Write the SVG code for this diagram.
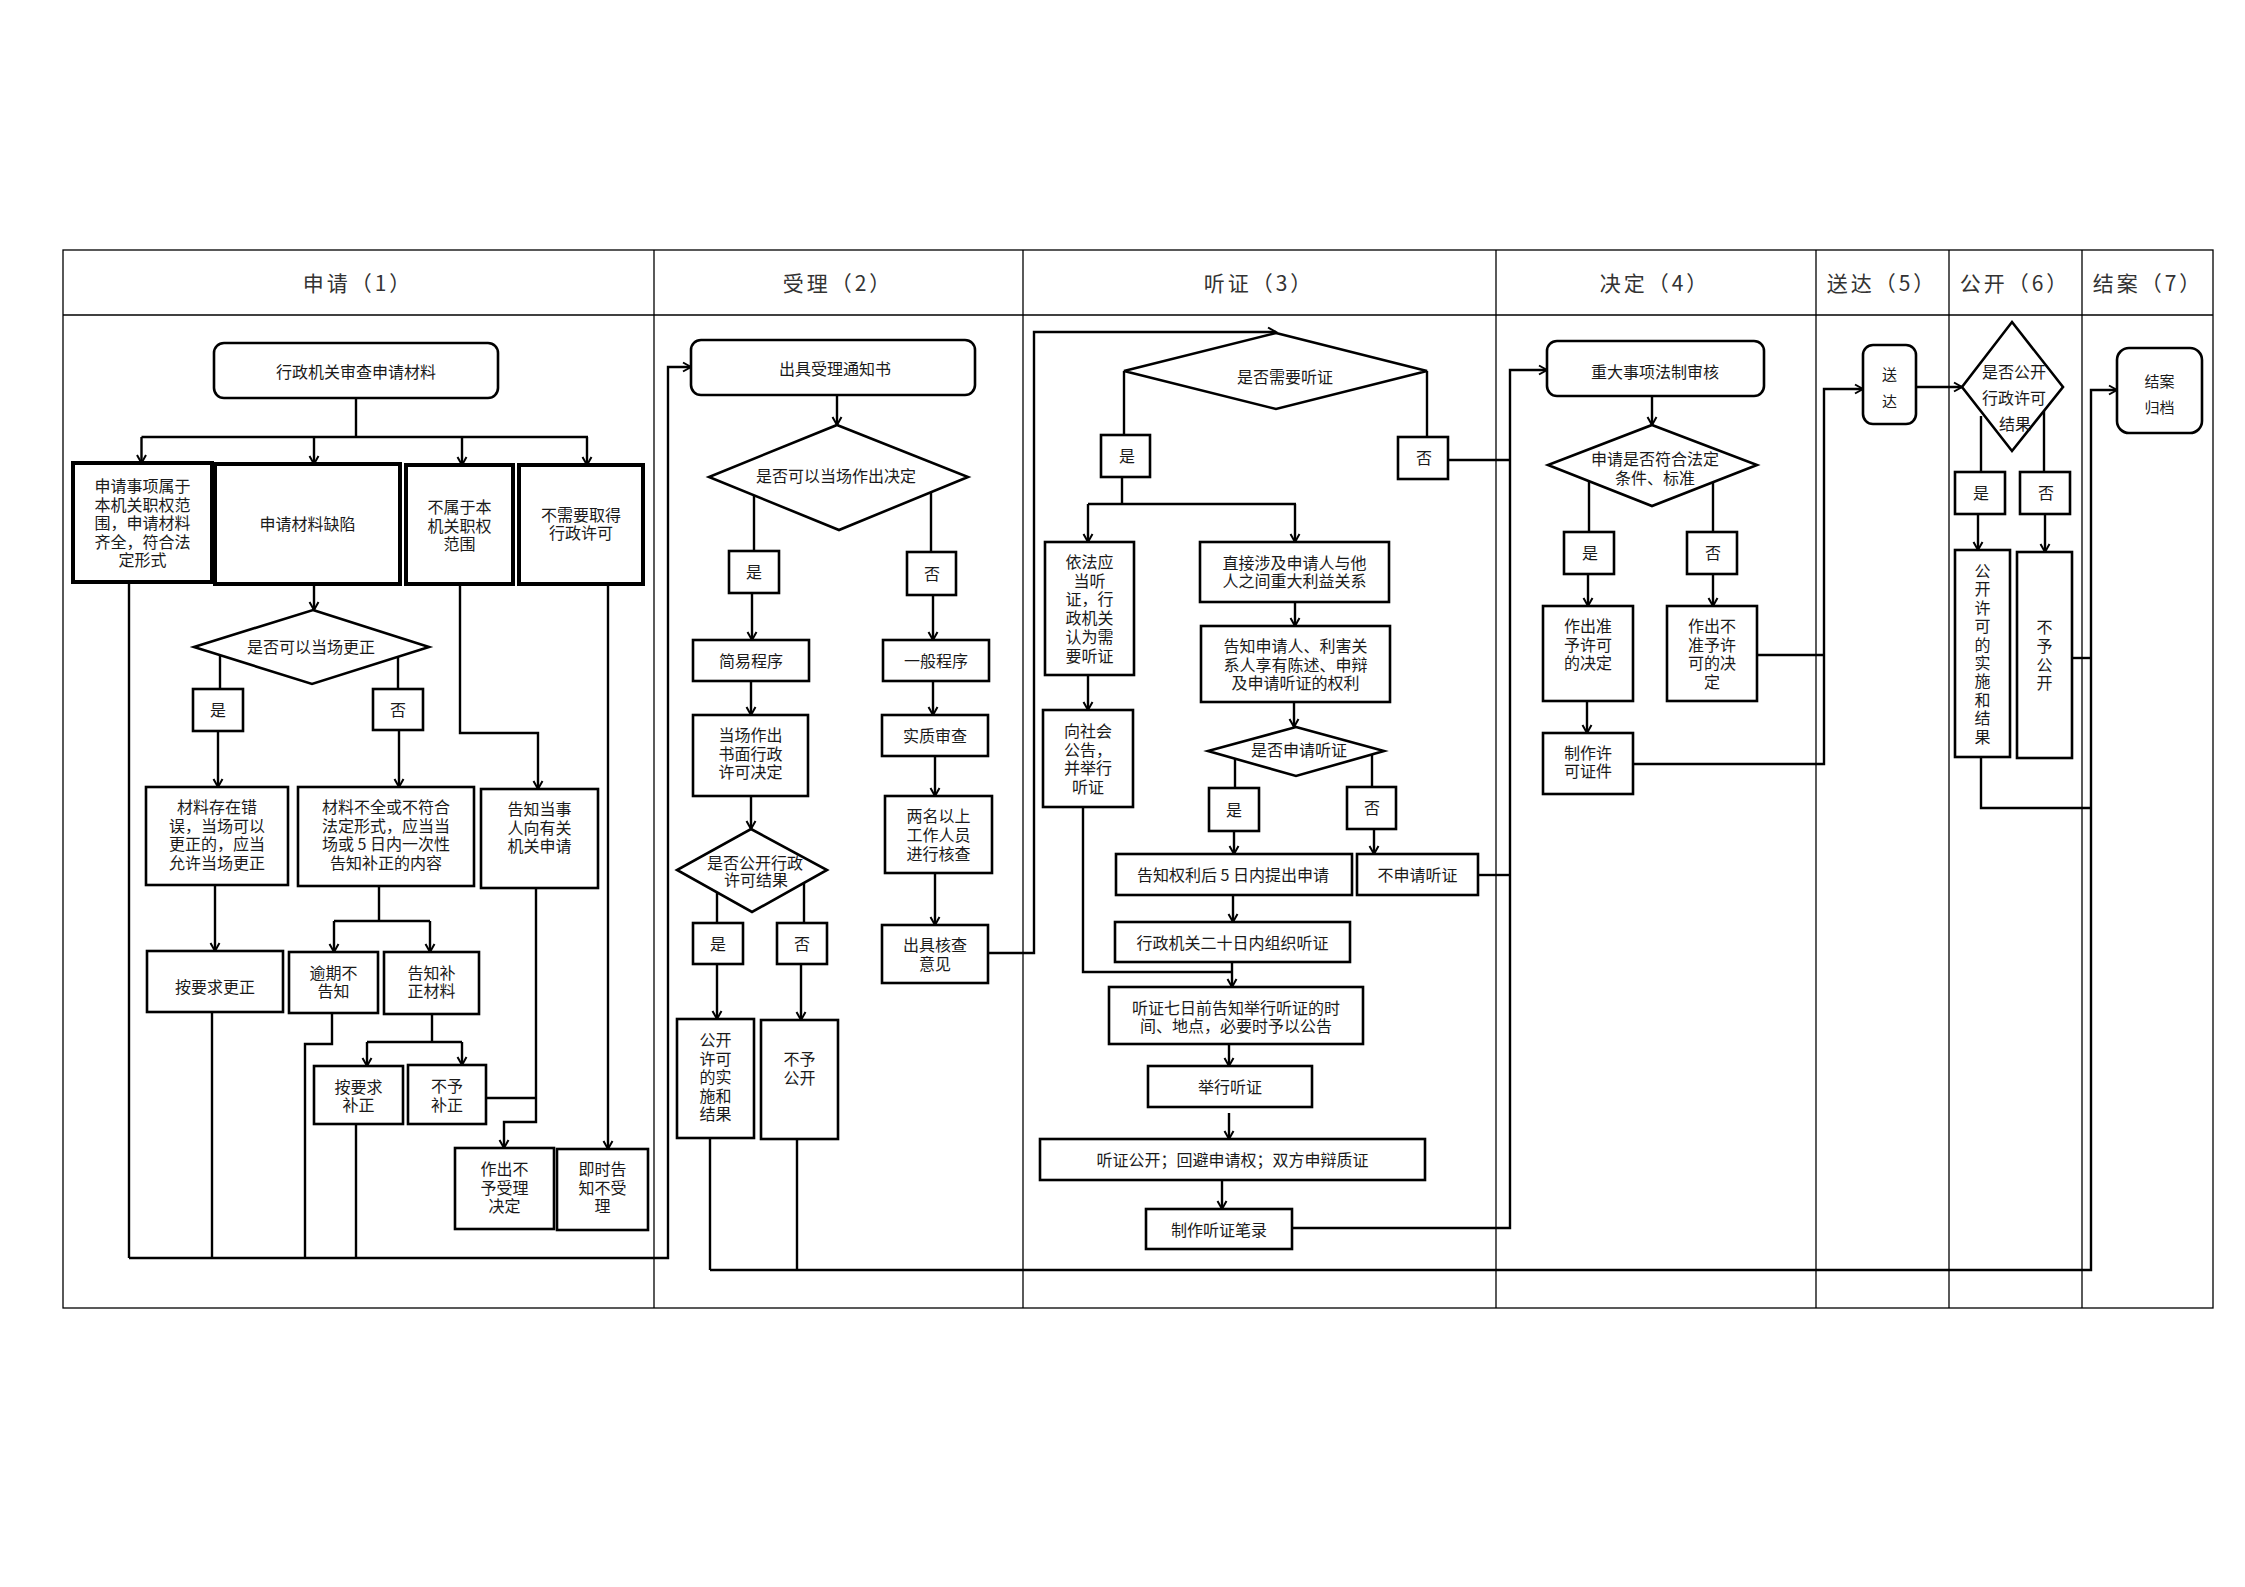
<svg xmlns="http://www.w3.org/2000/svg" width="2245" height="1587" viewBox="0 0 2245 1587">
<style>
.lane{fill:none;stroke:#000;stroke-width:1.3}
.b{fill:#fff;stroke:#000;stroke-width:2.6}
.bt{fill:#fff;stroke:#000;stroke-width:4}
.t{font-family:"Noto Sans CJK SC","Liberation Sans",sans-serif;font-size:16px;text-anchor:middle;dominant-baseline:central;fill:#1a1a1a}
.h{font-family:"Noto Sans CJK SC","Liberation Sans",sans-serif;font-size:21px;letter-spacing:3px;text-anchor:middle;dominant-baseline:central;fill:#333}
.c{fill:none;stroke:#000;stroke-width:2.4}
.a{marker-end:url(#arr)}
</style>
<defs>
<marker id="arr" markerWidth="12" markerHeight="12" refX="10" refY="6" orient="auto" markerUnits="userSpaceOnUse">
<path d="M2,1.5 L10,6 L2,10.5" fill="none" stroke="#000" stroke-width="2"/>
</marker>
</defs>
<rect width="2245" height="1587" fill="#fff"/>
<g id="lanes">
<rect class="lane" x="63" y="250" width="2150" height="1058"/>
<line class="lane" x1="63" y1="315" x2="2213" y2="315"/>
<line class="lane" x1="654" y1="250" x2="654" y2="1308"/>
<line class="lane" x1="1023" y1="250" x2="1023" y2="1308"/>
<line class="lane" x1="1496" y1="250" x2="1496" y2="1308"/>
<line class="lane" x1="1816" y1="250" x2="1816" y2="1308"/>
<line class="lane" x1="1949" y1="250" x2="1949" y2="1308"/>
<line class="lane" x1="2082" y1="250" x2="2082" y2="1308"/>
<text class="h" x="358" y="282">申请（1）</text>
<text class="h" x="838" y="282">受理（2）</text>
<text class="h" x="1259" y="282">听证（3）</text>
<text class="h" x="1655" y="282">决定（4）</text>
<text class="h" x="1882" y="282">送达（5）</text>
<text class="h" x="2015" y="282">公开（6）</text>
<text class="h" x="2148" y="282">结案（7）</text>
</g>
<g id="connectors">
<path class="c" d="M356,398 V437 M141.5,437 H588"/>
<path class="c a" d="M141.5,437 V463"/>
<path class="c a" d="M314,437 V464"/>
<path class="c a" d="M462,437 V465"/>
<path class="c a" d="M587,437 V465"/>
<path class="c a" d="M314,584 V610"/>
<path class="c" d="M220,656 V689"/>
<path class="c" d="M398,657 V689"/>
<path class="c a" d="M218,731 V787"/>
<path class="c a" d="M399,730 V787"/>
<path class="c a" d="M460,584 V733 H538 V789"/>
<path class="c" d="M129,582 V1258"/>
<path class="c a" d="M608,584 V1149"/>
<path class="c a" d="M215,885 V951"/>
<path class="c" d="M379,886 V921 M334,921 H430"/>
<path class="c a" d="M334,921 V952"/>
<path class="c a" d="M430,921 V952"/>
<path class="c a" d="M536,888 V1122 H504 V1148"/>
<path class="c" d="M486,1098 H536"/>
<path class="c" d="M212,1012 V1258"/>
<path class="c" d="M332,1013 V1044 H305 V1258"/>
<path class="c" d="M432,1014 V1042 M367,1042 H462"/>
<path class="c a" d="M367,1042 V1066"/>
<path class="c a" d="M462,1042 V1065"/>
<path class="c" d="M356,1124 V1258"/>
<path class="c a" d="M129,1258 H668 V367 H691"/>
<path class="c a" d="M837,395 V425"/>
<path class="c" d="M754,495 V551"/>
<path class="c" d="M931,493 V552"/>
<path class="c a" d="M752,593 V640"/>
<path class="c a" d="M933,595 V640"/>
<path class="c a" d="M751,681 V715"/>
<path class="c a" d="M933,681 V715"/>
<path class="c a" d="M935,756 V796"/>
<path class="c a" d="M935,873 V925"/>
<path class="c a" d="M988,953 H1034 V332 H1276"/>
<path class="c a" d="M751,796 V829"/>
<path class="c" d="M717,892 V923"/>
<path class="c" d="M804,883 V923"/>
<path class="c a" d="M717,964 V1019"/>
<path class="c a" d="M801,964 V1020"/>
<path class="c" d="M710,1138 V1270 M797,1139 V1270"/>
<path class="c a" d="M710,1270 H2091 V390 H2117"/>
<path class="c" d="M1124,371 V435"/>
<path class="c" d="M1427,371 V437"/>
<path class="c" d="M1448,460 H1510"/>
<path class="c" d="M1478,875 H1510"/>
<path class="c a" d="M1292,1228 H1510 V370 H1547"/>
<path class="c" d="M1122,477 V504 M1088,504 H1296"/>
<path class="c a" d="M1088,504 V542"/>
<path class="c a" d="M1295,504 V542"/>
<path class="c a" d="M1295,602 V626"/>
<path class="c a" d="M1088,675 V710"/>
<path class="c" d="M1083,807 V972 H1232"/>
<path class="c a" d="M1294,702 V727"/>
<path class="c" d="M1235,759 V788"/>
<path class="c" d="M1372,755 V787"/>
<path class="c a" d="M1234,831 V854"/>
<path class="c a" d="M1374,829 V854"/>
<path class="c a" d="M1233,895 V922"/>
<path class="c a" d="M1232,962 V987"/>
<path class="c a" d="M1229,1044 V1066"/>
<path class="c a" d="M1229,1113 V1139"/>
<path class="c a" d="M1222,1180 V1209"/>
<path class="c a" d="M1652,396 V425"/>
<path class="c" d="M1589,482 V532"/>
<path class="c" d="M1713,482 V532"/>
<path class="c a" d="M1588,574 V606"/>
<path class="c a" d="M1713,574 V606"/>
<path class="c a" d="M1587,701 V733"/>
<path class="c" d="M1757,655 H1824"/>
<path class="c a" d="M1633,764 H1824 V389 H1863"/>
<path class="c a" d="M1916,387 H1962"/>
<path class="c" d="M1981,416 V472"/>
<path class="c" d="M2044,411 V472"/>
<path class="c a" d="M1978,514 V550"/>
<path class="c a" d="M2045,514 V552"/>
<path class="c" d="M2072,658 H2091"/>
<path class="c" d="M1981,757 V808 H2091"/>
</g>
<g id="n-shencha"><rect class="b" x="214" y="343" width="284" height="55" rx="10"/><text class="t" x="356" y="371">行政机关审查申请材料</text></g>
<g id="n-shuyu"><rect class="bt" x="73" y="463" width="139" height="119"/><text class="t"><tspan x="142.5" y="485">申请事项属于</tspan><tspan x="142.5" y="503.5">本机关职权范</tspan><tspan x="142.5" y="522">围，申请材料</tspan><tspan x="142.5" y="540.5">齐全，符合法</tspan><tspan x="142.5" y="559">定形式</tspan></text></g>
<g id="n-quexian"><rect class="bt" x="215" y="464" width="185" height="120"/><text class="t" x="307.5" y="523">申请材料缺陷</text></g>
<g id="n-bushuyu"><rect class="bt" x="406" y="465" width="107" height="119"/><text class="t"><tspan x="459.5" y="506">不属于本</tspan><tspan x="459.5" y="524.5">机关职权</tspan><tspan x="459.5" y="543">范围</tspan></text></g>
<g id="n-buxuyao"><rect class="bt" x="519" y="465" width="124" height="119"/><text class="t"><tspan x="581" y="514">不需要取得</tspan><tspan x="581" y="532">行政许可</tspan></text></g>
<g id="d-gengzheng"><polygon class="b" points="313,610 429,647 312,684 194,647"/><text class="t" x="311" y="646">是否可以当场更正</text></g>
<g id="l1-yes"><rect class="b" x="193" y="689" width="50" height="42"/><text class="t" x="218" y="709">是</text></g>
<g id="l1-no"><rect class="b" x="373" y="689" width="50" height="41"/><text class="t" x="398" y="709">否</text></g>
<g id="n-cuowu"><rect class="b" x="146" y="787" width="142" height="98"/><text class="t"><tspan x="217" y="806">材料存在错</tspan><tspan x="217" y="824.5">误，当场可以</tspan><tspan x="217" y="843">更正的，应当</tspan><tspan x="217" y="861.5">允许当场更正</tspan></text></g>
<g id="n-buquan"><rect class="b" x="298" y="787" width="176" height="99"/><text class="t"><tspan x="386" y="806">材料不全或不符合</tspan><tspan x="386" y="824.5">法定形式，应当当</tspan><tspan x="386" y="843">场或 5 日内一次性</tspan><tspan x="386" y="861.5">告知补正的内容</tspan></text></g>
<g id="n-gaozhi"><rect class="b" x="481" y="789" width="117" height="99"/><text class="t"><tspan x="539.5" y="808">告知当事</tspan><tspan x="539.5" y="826.5">人向有关</tspan><tspan x="539.5" y="845">机关申请</tspan></text></g>
<g id="n-gengzheng"><rect class="b" x="147" y="951" width="136" height="61"/><text class="t" x="215" y="986">按要求更正</text></g>
<g id="n-yuqi"><rect class="b" x="289" y="952" width="89" height="61"/><text class="t"><tspan x="333.5" y="972">逾期不</tspan><tspan x="333.5" y="990">告知</tspan></text></g>
<g id="n-buzheng"><rect class="b" x="384" y="952" width="95" height="62"/><text class="t"><tspan x="431.5" y="972">告知补</tspan><tspan x="431.5" y="990">正材料</tspan></text></g>
<g id="n-anyaoqiu"><rect class="b" x="314" y="1066" width="89" height="58"/><text class="t"><tspan x="358.5" y="1086">按要求</tspan><tspan x="358.5" y="1104">补正</tspan></text></g>
<g id="n-buyubuzheng"><rect class="b" x="408" y="1065" width="78" height="59"/><text class="t"><tspan x="447" y="1085">不予</tspan><tspan x="447" y="1104">补正</tspan></text></g>
<g id="n-buyushouli"><rect class="b" x="455" y="1148" width="99" height="81"/><text class="t"><tspan x="504.5" y="1168">作出不</tspan><tspan x="504.5" y="1187">予受理</tspan><tspan x="504.5" y="1205">决定</tspan></text></g>
<g id="n-jishi"><rect class="b" x="557" y="1149" width="91" height="81"/><text class="t"><tspan x="602.5" y="1168">即时告</tspan><tspan x="602.5" y="1187">知不受</tspan><tspan x="602.5" y="1205">理</tspan></text></g>
<g id="n-tongzhishu"><rect class="b" x="691" y="340" width="284" height="55" rx="10"/><text class="t" x="835" y="368">出具受理通知书</text></g>
<g id="d-dangchang"><polygon class="b" points="837,425 968,477 839,530 709,477"/><text class="t" x="836" y="475">是否可以当场作出决定</text></g>
<g id="l2-yes"><rect class="b" x="729" y="551" width="50" height="42"/><text class="t" x="754" y="571">是</text></g>
<g id="l2-no"><rect class="b" x="907" y="552" width="49" height="43"/><text class="t" x="932" y="573">否</text></g>
<g id="n-jianyi"><rect class="b" x="693" y="640" width="116" height="41"/><text class="t" x="751" y="660">简易程序</text></g>
<g id="n-yiban"><rect class="b" x="883" y="640" width="106" height="41"/><text class="t" x="936" y="660">一般程序</text></g>
<g id="n-dangchangzuochu"><rect class="b" x="693" y="715" width="115" height="81"/><text class="t"><tspan x="750.5" y="734">当场作出</tspan><tspan x="750.5" y="752.5">书面行政</tspan><tspan x="750.5" y="771">许可决定</tspan></text></g>
<g id="n-shizhi"><rect class="b" x="882" y="715" width="106" height="41"/><text class="t" x="935" y="735">实质审查</text></g>
<g id="n-liangming"><rect class="b" x="885" y="796" width="107" height="77"/><text class="t"><tspan x="938.5" y="815">两名以上</tspan><tspan x="938.5" y="834">工作人员</tspan><tspan x="938.5" y="853">进行核查</tspan></text></g>
<g id="n-hecha"><rect class="b" x="882" y="925" width="106" height="58"/><text class="t"><tspan x="935" y="944">出具核查</tspan><tspan x="935" y="963">意见</tspan></text></g>
<g id="d-gongkai2"><polygon class="b" points="751,829 827,870 752,912 677,870"/><text class="t"><tspan x="755" y="862">是否公开行政</tspan><tspan x="756" y="879">许可结果</tspan></text></g>
<g id="l2b-yes"><rect class="b" x="693" y="923" width="50" height="41"/><text class="t" x="718" y="943">是</text></g>
<g id="l2b-no"><rect class="b" x="777" y="923" width="50" height="41"/><text class="t" x="802" y="943">否</text></g>
<g id="n-gongkaixuke2"><rect class="b" x="677" y="1019" width="77" height="119"/><text class="t"><tspan x="715.5" y="1039">公开</tspan><tspan x="715.5" y="1057.5">许可</tspan><tspan x="715.5" y="1076">的实</tspan><tspan x="715.5" y="1094.5">施和</tspan><tspan x="715.5" y="1113">结果</tspan></text></g>
<g id="n-buyugongkai2"><rect class="b" x="761" y="1020" width="77" height="119"/><text class="t"><tspan x="799.5" y="1058">不予</tspan><tspan x="799.5" y="1076.5">公开</tspan></text></g>
<g id="d-tingzheng"><polygon class="b" points="1276,333 1427,371 1276,409 1124,371"/><text class="t" x="1285" y="376">是否需要听证</text></g>
<g id="l3-yes"><rect class="b" x="1101" y="435" width="49" height="42"/><text class="t" x="1127" y="455">是</text></g>
<g id="l3-no"><rect class="b" x="1398" y="437" width="50" height="42"/><text class="t" x="1424" y="457">否</text></g>
<g id="n-yifa"><rect class="b" x="1045" y="542" width="89" height="133"/><text class="t"><tspan x="1089.5" y="561">依法应</tspan><tspan x="1089.5" y="579.5">当听</tspan><tspan x="1089.5" y="598">证，行</tspan><tspan x="1089.5" y="617">政机关</tspan><tspan x="1089.5" y="636">认为需</tspan><tspan x="1089.5" y="654.5">要听证</tspan></text></g>
<g id="n-zhijie"><rect class="b" x="1200" y="542" width="189" height="60"/><text class="t"><tspan x="1294.5" y="562">直接涉及申请人与他</tspan><tspan x="1294.5" y="580">人之间重大利益关系</tspan></text></g>
<g id="n-gaozhishenqingren"><rect class="b" x="1201" y="626" width="189" height="76"/><text class="t"><tspan x="1295.5" y="645">告知申请人、利害关</tspan><tspan x="1295.5" y="663.5">系人享有陈述、申辩</tspan><tspan x="1295.5" y="682">及申请听证的权利</tspan></text></g>
<g id="n-shehui"><rect class="b" x="1043" y="710" width="90" height="97"/><text class="t"><tspan x="1088" y="730">向社会</tspan><tspan x="1088" y="749">公告，</tspan><tspan x="1088" y="767">并举行</tspan><tspan x="1088" y="786">听证</tspan></text></g>
<g id="d-shenqing"><polygon class="b" points="1296,727 1384,751 1296,776 1208,751"/><text class="t" x="1299" y="749">是否申请听证</text></g>
<g id="l3b-yes"><rect class="b" x="1209" y="788" width="50" height="43"/><text class="t" x="1234" y="809">是</text></g>
<g id="l3b-no"><rect class="b" x="1347" y="787" width="49" height="42"/><text class="t" x="1372" y="807">否</text></g>
<g id="n-wuri"><rect class="b" x="1116" y="854" width="236" height="41"/><text class="t" x="1233" y="874">告知权利后 5 日内提出申请</text></g>
<g id="n-bushenqing"><rect class="b" x="1357" y="854" width="121" height="41"/><text class="t" x="1417.5" y="874">不申请听证</text></g>
<g id="n-ershiri"><rect class="b" x="1115" y="922" width="235" height="40"/><text class="t" x="1232.5" y="942">行政机关二十日内组织听证</text></g>
<g id="n-qiri"><rect class="b" x="1109" y="987" width="254" height="57"/><text class="t"><tspan x="1236" y="1007">听证七日前告知举行听证的时</tspan><tspan x="1236" y="1025">间、地点，必要时予以公告</tspan></text></g>
<g id="n-juxing"><rect class="b" x="1148" y="1066" width="164" height="41"/><text class="t" x="1230" y="1086">举行听证</text></g>
<g id="n-gongkai3"><rect class="b" x="1040" y="1139" width="385" height="41"/><text class="t" x="1232.5" y="1159">听证公开；回避申请权；双方申辩质证</text></g>
<g id="n-bilu"><rect class="b" x="1146" y="1209" width="146" height="40"/><text class="t" x="1219" y="1229">制作听证笔录</text></g>
<g id="n-fazhi"><rect class="b" x="1547" y="341" width="217" height="55" rx="10"/><text class="t" x="1655" y="371">重大事项法制审核</text></g>
<g id="d-fuhe"><polygon class="b" points="1652,425 1757,465 1652,506 1548,465"/><text class="t"><tspan x="1655" y="458">申请是否符合法定</tspan><tspan x="1655" y="477">条件、标准</tspan></text></g>
<g id="l4-yes"><rect class="b" x="1564" y="532" width="50" height="42"/><text class="t" x="1590" y="552">是</text></g>
<g id="l4-no"><rect class="b" x="1687" y="532" width="50" height="42"/><text class="t" x="1713" y="552">否</text></g>
<g id="n-zhunyu"><rect class="b" x="1543" y="606" width="90" height="95"/><text class="t"><tspan x="1588" y="625">作出准</tspan><tspan x="1588" y="643.5">予许可</tspan><tspan x="1588" y="662">的决定</tspan></text></g>
<g id="n-buzhunyu"><rect class="b" x="1667" y="606" width="90" height="95"/><text class="t"><tspan x="1712" y="625">作出不</tspan><tspan x="1712" y="643.5">准予许</tspan><tspan x="1712" y="662">可的决</tspan><tspan x="1712" y="681">定</tspan></text></g>
<g id="n-zhengjian"><rect class="b" x="1543" y="733" width="90" height="61"/><text class="t"><tspan x="1588" y="752">制作许</tspan><tspan x="1588" y="770">可证件</tspan></text></g>
<g id="n-songda"><rect class="b" x="1863" y="345" width="53" height="79" rx="10"/><text class="t" style="font-size:15px"><tspan x="1889.5" y="373">送</tspan><tspan x="1889.5" y="400">达</tspan></text></g>
<g id="d-gongkai6"><polygon class="b" points="2012,322 2063,387 2012,451 1962,387"/><text class="t"><tspan x="2014" y="371">是否公开</tspan><tspan x="2014" y="397">行政许可</tspan><tspan x="2015" y="423">结果</tspan></text></g>
<g id="l6-yes"><rect class="b" x="1955" y="472" width="50" height="42"/><text class="t" x="1981" y="492">是</text></g>
<g id="l6-no"><rect class="b" x="2020" y="472" width="50" height="42"/><text class="t" x="2046" y="492">否</text></g>
<g id="n-gongkaixuke6"><rect class="b" x="1955" y="550" width="55" height="207"/><text class="t"><tspan x="1982.5" y="570">公</tspan><tspan x="1982.5" y="588.4">开</tspan><tspan x="1982.5" y="606.8">许</tspan><tspan x="1982.5" y="625.2">可</tspan><tspan x="1982.5" y="643.6">的</tspan><tspan x="1982.5" y="662">实</tspan><tspan x="1982.5" y="680.4">施</tspan><tspan x="1982.5" y="698.8">和</tspan><tspan x="1982.5" y="717.2">结</tspan><tspan x="1982.5" y="735.6">果</tspan></text></g>
<g id="n-buyugongkai6"><rect class="b" x="2017" y="552" width="55" height="206"/><text class="t"><tspan x="2044.5" y="626">不</tspan><tspan x="2044.5" y="645">予</tspan><tspan x="2044.5" y="664">公</tspan><tspan x="2044.5" y="682">开</tspan></text></g>
<g id="n-jiean"><rect class="b" x="2117" y="348" width="85" height="85" rx="12"/><text class="t" style="font-size:15px"><tspan x="2159.5" y="380">结案</tspan><tspan x="2159.5" y="406">归档</tspan></text></g>
</svg>
